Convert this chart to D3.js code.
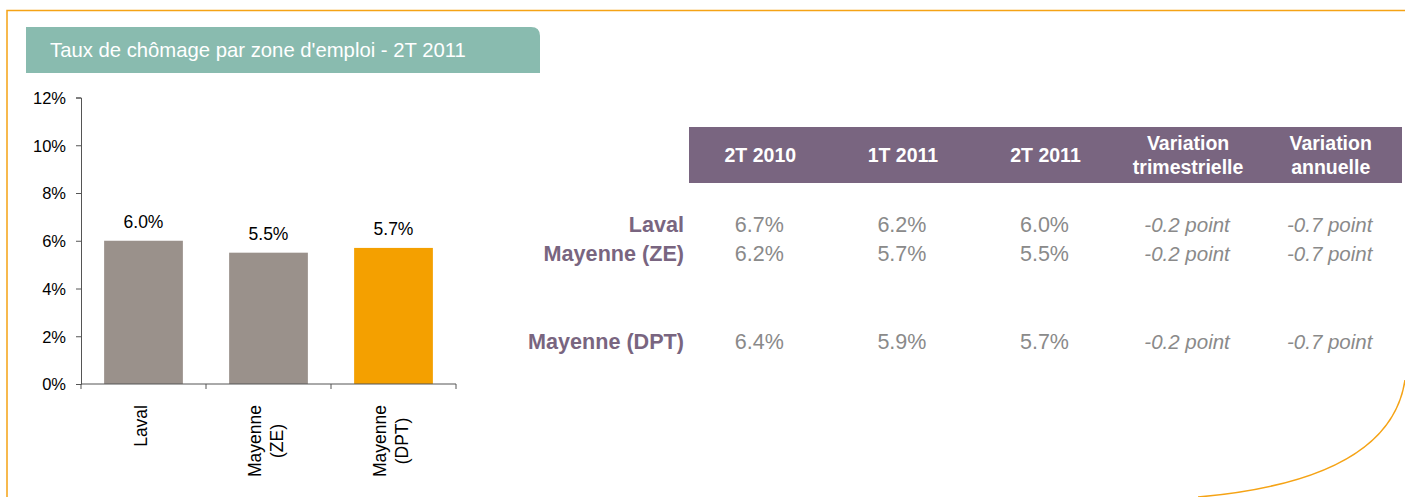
<!DOCTYPE html>
<html>
<head>
<meta charset="utf-8">
<script src="https://cdn.jsdelivr.net/npm/d3@7"></script>
<style>
  html, body { margin: 0; padding: 0; background: #fff; }
  svg { display: block; font-family: "Liberation Sans", Arial, sans-serif; }
</style>
</head>
<body>
<svg id="chart" width="1405" height="497"></svg>
<script>
// ---- data ----
const title = "Taux de chômage par zone d'emploi - 2T 2011";
const categories = ["Laval", "Mayenne (ZE)", "Mayenne (DPT)"];
const categoryLabelLines = [["Laval"], ["Mayenne", "(ZE)"], ["Mayenne", "(DPT)"]];
const rate2T2011 = [0.060, 0.055, 0.057];
const highlight = [false, false, true];
const yTicks = [0, 0.02, 0.04, 0.06, 0.08, 0.10, 0.12];

const tableColumns = ["2T 2010", "1T 2011", "2T 2011", "Variation trimestrielle", "Variation annuelle"];
const tableHeaderLines = [["2T 2010"], ["1T 2011"], ["2T 2011"], ["Variation", "trimestrielle"], ["Variation", "annuelle"]];
const rowLabels = ["Laval", "Mayenne (ZE)", "Mayenne (DPT)"];
const val2T2010 = [6.7, 6.2, 6.4];
const val1T2011 = [6.2, 5.7, 5.9];
const val2T2011 = [6.0, 5.5, 5.7];
const varTrim = [-0.2, -0.2, -0.2];
const varAnn = [-0.7, -0.7, -0.7];

// ---- drawing ----
const svg = d3.select("#chart");
const orange = "#F5A315";

// frame
svg.append("path")
  .attr("d", "M7,497 L7,10.5 L1405,10.5")
  .attr("fill", "none").attr("stroke", orange).attr("stroke-width", 1.5);
svg.append("path")
  .attr("d", "M1405,380 Q1390,480 1198,497")
  .attr("fill", "none").attr("stroke", orange).attr("stroke-width", 1.5);

// title box
const tb = {x0: 26, y0: 27, x1: 540, y1: 73, r: 9};
svg.append("path")
  .attr("d", `M${tb.x0},${tb.y0} L${tb.x1 - tb.r},${tb.y0} Q${tb.x1},${tb.y0} ${tb.x1},${tb.y0 + tb.r} L${tb.x1},${tb.y1} L${tb.x0},${tb.y1} Z`)
  .attr("fill", "#89BBAF");
svg.append("text")
  .attr("x", 50).attr("y", 57)
  .attr("fill", "#fff").attr("font-size", 20.3)
  .text(title);

// bar chart
const x = d3.scaleBand().domain(categories).range([81, 456]).paddingInner(0.37).paddingOuter(0.185);
const xb = d3.scaleBand().domain(categories).range([81, 456]);
const y = d3.scaleLinear().domain([0, 0.12]).range([384, 97.5]);

const yAxis = svg.append("g")
  .attr("transform", "translate(81,0)")
  .call(d3.axisLeft(y).tickValues(yTicks).tickFormat(d3.format(".0%")).tickSizeOuter(0).tickSize(5).tickPadding(10));
yAxis.select(".domain").attr("stroke", "#555");
yAxis.selectAll(".tick line").attr("stroke", "#555");
yAxis.selectAll(".tick text").attr("font-size", 16.5).attr("fill", "#000").attr("font-family", "Liberation Sans, Arial, sans-serif").attr("dy", "0.36em");

svg.append("g").selectAll("rect")
  .data(categories)
  .join("rect")
  .attr("x", d => x(d))
  .attr("width", x.bandwidth())
  .attr("y", (d, i) => y(rate2T2011[i]))
  .attr("height", (d, i) => y(0) - y(rate2T2011[i]))
  .attr("fill", (d, i) => highlight[i] ? "#F4A000" : "#9A918B");

svg.append("g").selectAll("text")
  .data(categories)
  .join("text")
  .attr("x", d => x(d) + x.bandwidth() / 2)
  .attr("y", (d, i) => y(rate2T2011[i]) - 13)
  .attr("text-anchor", "middle")
  .attr("font-size", 17.5)
  .attr("fill", "#000")
  .text((d, i) => d3.format(".1%")(rate2T2011[i]));

// x axis
svg.append("line")
  .attr("x1", 81).attr("x2", 456).attr("y1", y(0)).attr("y2", y(0))
  .attr("stroke", "#555");
const bounds = categories.map(c => xb(c)).concat([xb.range()[1]]);
svg.append("g").selectAll("line")
  .data(bounds)
  .join("line")
  .attr("x1", d => d).attr("x2", d => d)
  .attr("y1", y(0)).attr("y2", y(0) + 5)
  .attr("stroke", "#555");

// category labels (rotated)
categories.forEach((c, i) => {
  const lines = categoryLabelLines[i];
  const cx = xb(c) + xb.bandwidth() / 2;
  const g = svg.append("g").attr("transform", `translate(${cx},405) rotate(-90)`);
  const t = g.append("text").attr("font-size", 17.5).attr("fill", "#000").attr("text-anchor", "middle");
  const tsp = lines.map((ln, k) => t.append("tspan").attr("x", 0).attr("y", 3.5 + (k - (lines.length - 1) / 2) * 21.5).text(ln));
  const maxLen = d3.max(tsp, s => s.node().getComputedTextLength());
  tsp.forEach(s => s.attr("x", -maxLen / 2));
});

// table
const col = d3.scaleBand().domain(tableColumns).range([689, 1402]);
const row = d3.scalePoint().domain(["Laval", "Mayenne (ZE)", "gap1", "gap2", "Mayenne (DPT)"]).range([232, 348.5]);
const purple = "#796580";
const grey = "#8A8A8A";

svg.append("rect")
  .attr("x", 689).attr("y", 127).attr("width", 713).attr("height", 56)
  .attr("fill", purple);

tableColumns.forEach((c, j) => {
  const lines = tableHeaderLines[j];
  const t = svg.append("text")
    .attr("text-anchor", "middle").attr("fill", "#fff")
    .attr("font-weight", "bold").attr("font-size", 19.5);
  lines.forEach((ln, k) => {
    t.append("tspan")
      .attr("x", col(c) + col.bandwidth() / 2)
      .attr("y", 162 + (k - (lines.length - 1) / 2) * 24)
      .text(ln);
  });
});

svg.append("g").selectAll("text")
  .data(rowLabels)
  .join("text")
  .attr("x", 684)
  .attr("y", d => row(d))
  .attr("text-anchor", "end")
  .attr("font-weight", "bold")
  .attr("font-size", 21.6)
  .attr("fill", purple)
  .text(d => d);

const pct = v => d3.format(".1f")(v) + "%";
const pts = v => d3.format(".1f")(v).replace("−", "-") + " point";
const colValues = [val2T2010, val1T2011, val2T2011, varTrim, varAnn];
colValues.forEach((vals, j) => {
  const italic = j >= 3;
  svg.append("g").selectAll("text")
    .data(rowLabels)
    .join("text")
    .attr("x", col(tableColumns[j]) + col.bandwidth() / 2 - 1)
    .attr("y", d => row(d))
    .attr("text-anchor", "middle")
    .attr("font-size", italic ? 20.5 : 21.5)
    .attr("font-style", italic ? "italic" : "normal")
    .attr("fill", grey)
    .text((d, i) => italic ? pts(vals[i]) : pct(vals[i]));
});
</script>
</body>
</html>
